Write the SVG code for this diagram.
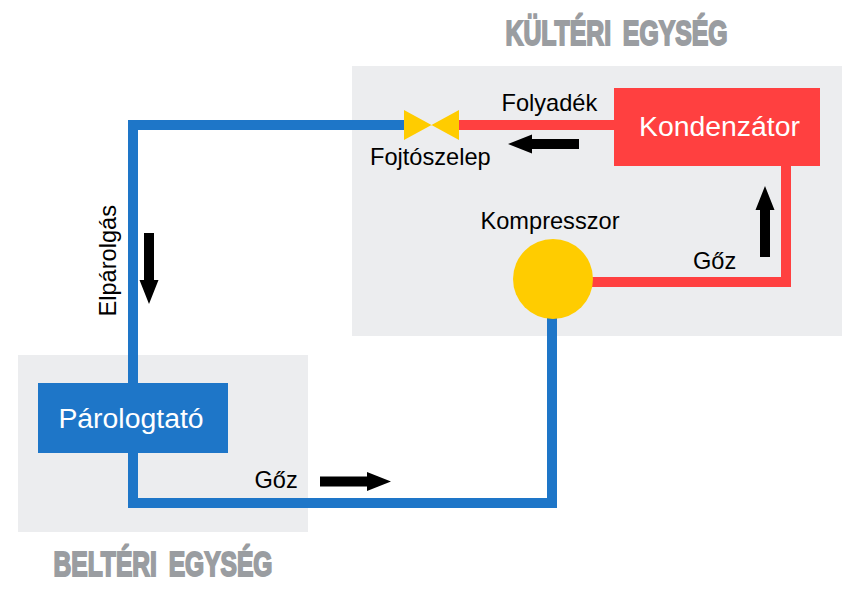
<svg xmlns="http://www.w3.org/2000/svg" width="860" height="600" viewBox="0 0 860 600">
  <style>
    text { font-family: "Liberation Sans", Arial, sans-serif; }
    .zone { fill: #ecedef; }
    .pipe { fill: none; stroke-width: 10; stroke-linejoin: miter; }
    .blue { stroke: #1e76c8; }
    .red { stroke: #ff4040; }
    .label { font-size: 23.6px; fill: #000; }
    .node { font-size: 28.4px; fill: #fff; text-anchor: middle; }
    .title { font-size: 35px; font-weight: 700; fill: #9a9da1; stroke: #9a9da1; stroke-width: 2px; stroke-linejoin: miter; word-spacing: 7px; }
    .flow { fill: #000; }
  </style>
  <defs>
    <path id="flow-arrow" d="M0-5H47V-9.5L71 0 47 9.5V5H0Z"/>
  </defs>

  <g id="zones">
    <rect class="zone" x="352" y="66" width="490" height="270"/>
    <rect class="zone" x="18" y="355" width="290" height="177"/>
    <text class="title" x="505.5" y="44.5" textLength="222" lengthAdjust="spacingAndGlyphs">KÜLTÉRI EGYSÉG</text>
    <text class="title" x="53.5" y="575.5" textLength="219" lengthAdjust="spacingAndGlyphs">BELTÉRI EGYSÉG</text>
  </g>

  <g id="connectors">
    <path class="pipe blue" d="M410 125H133V498"/>
    <path class="pipe blue" d="M133 450V503H552V315"/>
    <path class="pipe red" d="M450 125H620"/>
    <path class="pipe red" d="M786 160V282H590"/>
    <use class="flow" href="#flow-arrow" transform="translate(579 144) rotate(180)"/>
    <use class="flow" href="#flow-arrow" transform="translate(765 257) rotate(-90)"/>
    <use class="flow" href="#flow-arrow" transform="translate(149 233) rotate(90)"/>
    <use class="flow" href="#flow-arrow" transform="translate(320 481.5)"/>
  </g>

  <g id="kondenzator">
    <rect x="614" y="88" width="206" height="78" fill="#ff4040"/>
    <text class="node" x="719.5" y="136">Kondenzátor</text>
  </g>
  <g id="parologtato">
    <rect x="38" y="383" width="190" height="70" fill="#1e76c8"/>
    <text class="node" x="131" y="428">Párologtató</text>
  </g>
  <g id="kompresszor">
    <circle cx="553" cy="279" r="40" fill="#ffcc00"/>
    <text class="label" x="480.5" y="229">Kompresszor</text>
  </g>
  <g id="fojtoszelep">
    <path d="M404 110L459 140V110L404 140Z" fill="#ffcc00"/>
    <text class="label" x="370" y="165">Fojtószelep</text>
  </g>

  <g id="labels">
    <text class="label" x="501.5" y="111">Folyadék</text>
    <text class="label" x="693" y="269">Gőz</text>
    <text class="label" x="254.5" y="487.5">Gőz</text>
    <text class="label" transform="translate(116 316.5) rotate(-90)">Elpárolgás</text>
  </g>
</svg>
